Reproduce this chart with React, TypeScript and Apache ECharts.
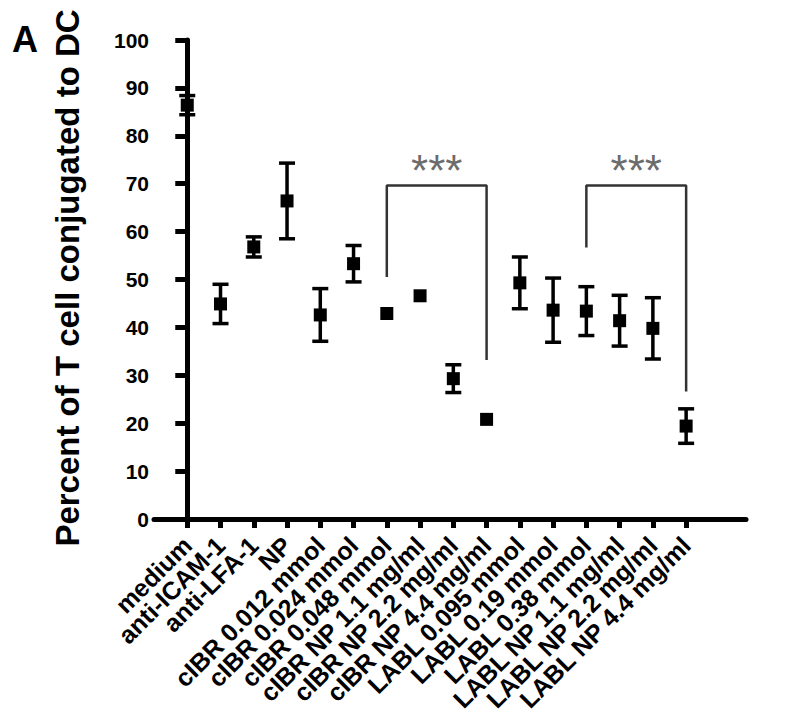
import React, { useEffect, useRef } from "react";
import * as echarts from "echarts";

const categories = [
  "medium", "anti-ICAM-1", "anti-LFA-1", "NP",
  "cIBR 0.012 mmol", "cIBR 0.024 mmol", "cIBR 0.048 mmol",
  "cIBR NP 1.1 mg/ml", "cIBR NP 2.2 mg/ml", "cIBR NP 4.4 mg/ml",
  "LABL 0.095 mmol", "LABL 0.19 mmol", "LABL 0.38 mmol",
  "LABL NP 1.1 mg/ml", "LABL NP 2.2 mg/ml", "LABL NP 4.4 mg/ml",
];
const means = [86.4, 44.9, 56.8, 66.4, 42.6, 53.3, 42.9, 46.6, 29.3, 20.8, 49.3, 43.6, 43.4, 41.4, 39.8, 19.4];
const errors = [2.0, 4.1, 2.1, 7.9, 5.5, 3.8, 0, 0, 2.9, 0, 5.4, 6.7, 5.1, 5.3, 6.4, 3.6];
const yTicks = [0, 10, 20, 30, 40, 50, 60, 70, 80, 90, 100];
const yTitle = "Percent of T cell conjugated to DC";

const bracket1 = [[6, 50.5], [6, 69.6], [9, 69.6], [9, 33.2]];
const bracket2 = [[12, 56.7], [12, 69.6], [15, 69.6], [15, 26.6]];
const stars = [[7.5, 74.5, "***"], [13.5, 74.5, "***"]];

export default function App() {
  const ref = useRef<HTMLDivElement>(null);
  useEffect(() => {
    const chart = echarts.init(ref.current!, null, { renderer: "svg" });
    const font = "Liberation Sans, Arial, sans-serif";
    const gLeft = 154;
    const gRight = 54;
    const xMin = -1;
    const xMax = 16.8;
    const unit = (800 - gLeft - gRight) / (xMax - xMin);
    const g2Left = gLeft + (0 - xMin) * unit;
    const g2Right = 800 - (gLeft + (categories.length - 1 - xMin) * unit);
    chart.setOption({
      animation: false,
      backgroundColor: "#fff",
      grid: [
        { left: gLeft, right: gRight, top: 40, bottom: 208 },
        { left: g2Left, right: g2Right, top: 40, bottom: 208 },
      ],
      xAxis: [
        {
          type: "value",
          gridIndex: 0,
          min: xMin,
          max: xMax,
          splitLine: { show: false },
          axisLine: { show: true, lineStyle: { color: "#000", width: 5 } },
          axisTick: { show: false },
          axisLabel: { show: false },
        },
        {
          type: "category",
          gridIndex: 1,
          data: categories,
          boundaryGap: false,
          axisLine: { show: false },
          axisTick: { show: true, interval: 0, length: 9, lineStyle: { color: "#000", width: 5 } },
          axisLabel: {
            show: true,
            interval: 0,
            rotate: 45,
            fontSize: 25,
            fontWeight: "bold",
            fontFamily: font,
            color: "#000",
            margin: 22,
          },
        },
      ],
      yAxis: [
        {
          type: "value",
          gridIndex: 0,
          min: 0,
          max: 100,
          interval: 10,
          splitLine: { show: false },
          axisLine: { show: true, lineStyle: { color: "#000", width: 5 } },
          axisTick: { show: true, length: 12, lineStyle: { color: "#000", width: 5 } },
          axisLabel: {
            fontSize: 21,
            fontWeight: "bold",
            fontFamily: font,
            color: "#000",
            margin: 5,
            formatter: (v: number) => (yTicks.includes(v) ? String(v) : ""),
          },
        },
        {
          type: "value",
          gridIndex: 1,
          min: 0,
          max: 100,
          show: false,
        },
      ],
      graphic: [
        {
          type: "text",
          left: 12,
          top: 21,
          style: { text: "A", font: "bold 36px Liberation Sans, Arial, sans-serif", fill: "#000" },
        },
        {
          type: "text",
          x: 67,
          y: 278,
          rotation: Math.PI / 2,
          style: {
            text: yTitle,
            font: "bold 33px Liberation Sans, Arial, sans-serif",
            fill: "#000",
            align: "center",
            verticalAlign: "middle",
          },
        },
      ],
      series: [
        {
          type: "custom",
          xAxisIndex: 0,
          yAxisIndex: 0,
          data: means.map((m, i) => [i, m - errors[i], m + errors[i], errors[i]]),
          renderItem: (params: any, api: any) => {
            if (api.value(3) <= 0) return null;
            const lo = api.coord([api.value(0), api.value(1)]);
            const hi = api.coord([api.value(0), api.value(2)]);
            const w = 8;
            const st = { stroke: "#000", lineWidth: 3.5 };
            return {
              type: "group",
              children: [
                { type: "line", shape: { x1: lo[0], y1: lo[1], x2: hi[0], y2: hi[1] }, style: st },
                { type: "line", shape: { x1: lo[0] - w, y1: lo[1], x2: lo[0] + w, y2: lo[1] }, style: st },
                { type: "line", shape: { x1: hi[0] - w, y1: hi[1], x2: hi[0] + w, y2: hi[1] }, style: st },
              ],
            };
          },
          z: 3,
        },
        {
          type: "scatter",
          xAxisIndex: 0,
          yAxisIndex: 0,
          data: means.map((m, i) => [i, m]),
          symbol: "rect",
          symbolSize: 13,
          itemStyle: { color: "#000", opacity: 1 },
          z: 4,
        },
        {
          type: "line",
          xAxisIndex: 0,
          yAxisIndex: 0,
          data: bracket1,
          symbol: "none",
          lineStyle: { color: "#333", width: 2.5 },
        },
        {
          type: "line",
          xAxisIndex: 0,
          yAxisIndex: 0,
          data: bracket2,
          symbol: "none",
          lineStyle: { color: "#333", width: 2.5 },
        },
        {
          type: "scatter",
          xAxisIndex: 0,
          yAxisIndex: 0,
          data: stars,
          symbolSize: 1,
          itemStyle: { color: "transparent" },
          label: {
            show: true,
            position: "inside",
            formatter: (p: any) => p.value[2],
            fontSize: 44,
            fontFamily: font,
            color: "#444",
            offset: [0, 8],
          },
        },
      ],
    });
    return () => chart.dispose();
  }, []);
  return (
    <div
      ref={ref}
      style={{ position: "fixed", left: 0, top: 0, width: 800, height: 727 }}
    />
  );
}
